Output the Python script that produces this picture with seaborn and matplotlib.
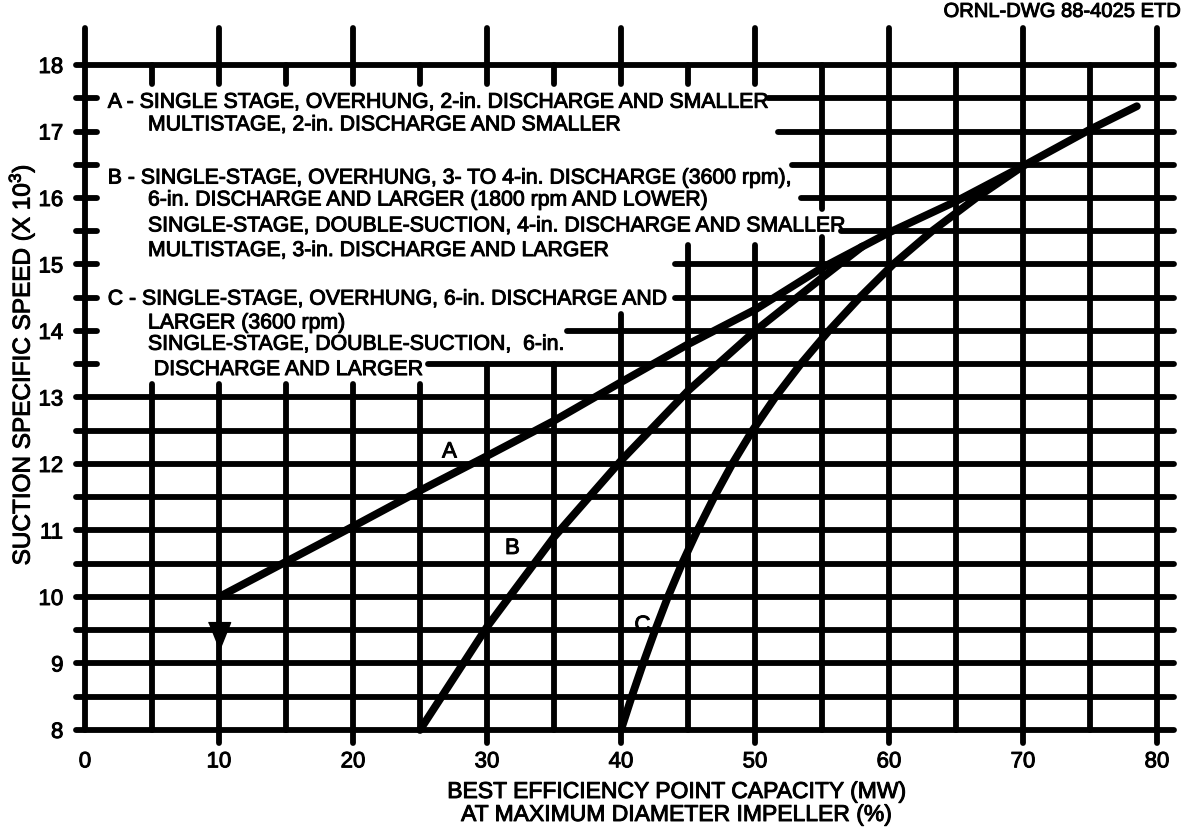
import matplotlib
matplotlib.use("Agg")
import matplotlib.pyplot as plt
import matplotlib.patheffects as pe
import numpy as np
import pandas as pd
import seaborn as sns

# Curves: best efficiency point capacity (%) vs suction specific speed (x 1000)
a_capacity = [10, 15, 20, 25, 30, 35, 40, 45, 50, 55, 60, 65, 70, 75, 78.5]
a_speed = [10.0, 10.53, 11.06, 11.6, 12.12, 12.65, 13.23, 13.8, 14.32, 14.95,
           15.48, 15.95, 16.48, 17.03, 17.38]
b_capacity = [25, 30, 35, 40, 45, 50, 55, 58]
b_speed = [8.0, 9.55, 10.9, 12.05, 13.1, 14.0, 14.8, 15.27]
c_capacity = [40.0, 40.8, 41.65, 42.55, 43.5, 44.55, 45.7, 46.95, 48.3, 49.8,
              51.5, 53.4, 55.5, 57.8, 60.3, 63.2, 66.5, 70.0]
c_speed = [8.0, 8.5, 9.0, 9.5, 10.0, 10.5, 11.0, 11.5, 12.0, 12.5,
           13.0, 13.5, 14.0, 14.5, 15.0, 15.5, 16.0, 16.48]

x_ticks = [0, 10, 20, 30, 40, 50, 60, 70, 80]
y_ticks = [8, 9, 10, 11, 12, 13, 14, 15, 16, 17, 18]

key_lines = [
    "A - SINGLE STAGE, OVERHUNG, 2-in. DISCHARGE AND SMALLER",
    "MULTISTAGE, 2-in. DISCHARGE AND SMALLER",
    "B - SINGLE-STAGE, OVERHUNG, 3- TO 4-in. DISCHARGE (3600 rpm),",
    "6-in. DISCHARGE AND LARGER (1800 rpm AND LOWER)",
    "SINGLE-STAGE, DOUBLE-SUCTION, 4-in. DISCHARGE AND SMALLER",
    "MULTISTAGE, 3-in. DISCHARGE AND LARGER",
    "C - SINGLE-STAGE, OVERHUNG, 6-in. DISCHARGE AND",
    "LARGER (3600 rpm)",
    "SINGLE-STAGE, DOUBLE-SUCTION,  6-in.",
    " DISCHARGE AND LARGER",
]

sns.set_theme(style="white")
INK = "black"
plt.rcParams["font.family"] = ["Liberation Sans", "DejaVu Sans"]
plt.rcParams["mathtext.default"] = "regular"
plt.rcParams["text.color"] = INK
plt.rcParams["axes.labelcolor"] = INK
plt.rcParams["xtick.color"] = INK
plt.rcParams["ytick.color"] = INK

heavy = [pe.withStroke(linewidth=0.7, foreground=INK)]

df = pd.concat([
    pd.DataFrame({"capacity": a_capacity, "speed": a_speed, "curve": "A"}),
    pd.DataFrame({"capacity": b_capacity, "speed": b_speed, "curve": "B"}),
    pd.DataFrame({"capacity": c_capacity, "speed": c_speed, "curve": "C"}),
], ignore_index=True)

fig = plt.figure(figsize=(11.84, 8.28), dpi=100)
ax = fig.add_axes([0.05821, 0.0947, 0.93706, 0.8818])
ax.set_xlim(-1.2, 81.6)
ax.set_ylim(7.72, 18.7)
for s in ax.spines.values():
    s.set_visible(False)

GRID_LW = 4.2
CURVE_LW = 5.6

# ---- hand-drafted grid: horizontal rules every 0.5, verticals every 5 ----
x_right = 81.3
x_left_tick = -0.7
# where each horizontal rule resumes to the right of the key text
h_resume = {13.5: 25.6, 14.0: 36.0, 14.5: 44.0, 15.0: 44.0, 15.5: 56.4,
            16.0: 53.4, 16.5: 52.8, 17.0: 51.7, 17.5: 51.0}
for yv in np.arange(8.0, 18.01, 0.5):
    yv = round(float(yv), 1)
    if yv in h_resume:
        spans = [(x_left_tick, 0.9), (h_resume[yv], x_right)]
    else:
        spans = [(x_left_tick, x_right)]
    for x0, x1 in spans:
        ax.plot([x0, x1], [yv, yv], color=INK, lw=GRID_LW,
                solid_capstyle="round", clip_on=False, zorder=2)

# verticals: where each one restarts below the key text
v_restart = {5: 13.2, 10: 13.2, 15: 13.2, 20: 13.2, 25: 13.2, 30: 13.5,
             35: 13.5, 40: 14.25, 45: 15.3, 50: 15.3}
top_long = 18.55
stub_end = 17.72
for xv in range(0, 81, 5):
    bottom = 7.8 if (xv % 10 == 0 and xv > 0) else 8.0
    top = top_long if xv % 10 == 0 else 18.0
    if xv == 0:
        segs = [(8.0, top_long)]
    elif xv in v_restart:
        segs = [(stub_end, top), (bottom, v_restart[xv])]
    elif xv == 55:
        segs = [(15.83, 18.0), (bottom, 15.41)]
    else:
        segs = [(bottom, top)]
    for y0, y1 in segs:
        ax.plot([xv, xv], [y0, y1], color=INK, lw=GRID_LW,
                solid_capstyle="round", clip_on=False, zorder=2)

# ---- the three curves ----
sns.lineplot(data=df, x="capacity", y="speed", units="curve", estimator=None,
             sort=False, color=INK, lw=CURVE_LW, ax=ax, legend=False,
             zorder=3)
for ln in ax.get_lines()[-3:]:
    ln.set_solid_capstyle("round")
    ln.set_solid_joinstyle("round")
    ln.set_clip_on(False)

# downward arrow from the start of curve A
arrow_marker = [(-0.8, 1.0), (0.8, 1.0), (0.0, -1.0)]
ax.plot([a_capacity[0]], [a_speed[0] - 0.58], marker=arrow_marker,
        markersize=20, color=INK, zorder=4, clip_on=False)

# curve letters
for letter, (lx, ly) in zip(["A", "B", "C"],
                            [(27.2, 12.18), (31.9, 10.73), (41.6, 9.57)]):
    ax.text(lx, ly, letter, fontsize=16, ha="center", va="center",
            zorder=5, path_effects=heavy)

# key text block
key_y = [17.44, 17.1, 16.3, 15.97, 15.58, 15.21, 14.48, 14.12, 13.8, 13.42]
for txt, yv in zip(key_lines, key_y):
    xv = 1.7 if txt[1:3] == " -" else 4.7
    ax.text(xv, yv, txt, fontsize=15.3, ha="left", va="center", zorder=5,
            path_effects=heavy)

# ---- axes text ----
ax.set_xticks(x_ticks)
ax.set_xticklabels([str(v) for v in x_ticks])
ax.set_yticks(y_ticks)
ax.set_yticklabels([str(v) for v in y_ticks])
ax.tick_params(axis="both", length=0, labelsize=16, colors=INK)
ax.tick_params(axis="x", pad=2)
ax.tick_params(axis="y", pad=4)
for t in ax.get_xticklabels() + ax.get_yticklabels():
    t.set_path_effects(heavy)

ax.set_xlabel("BEST EFFICIENCY POINT CAPACITY (MW)\nAT MAXIMUM DIAMETER IMPELLER (%)",
              fontsize=16.5, linespacing=1.0, color=INK, path_effects=heavy)
ax.xaxis.set_label_coords(0.547, -0.043)
ax.set_ylabel("SUCTION SPECIFIC SPEED (X 10$^3$)", fontsize=17.5, color=INK,
              path_effects=heavy)
ax.yaxis.set_label_coords(-0.029, 0.525)

fig.text(0.997, 0.985, "ORNL-DWG 88-4025 ETD", fontsize=14.5, ha="right",
         va="center", color=INK, path_effects=heavy)

fig.savefig("out.png", dpi=100, facecolor="white")
